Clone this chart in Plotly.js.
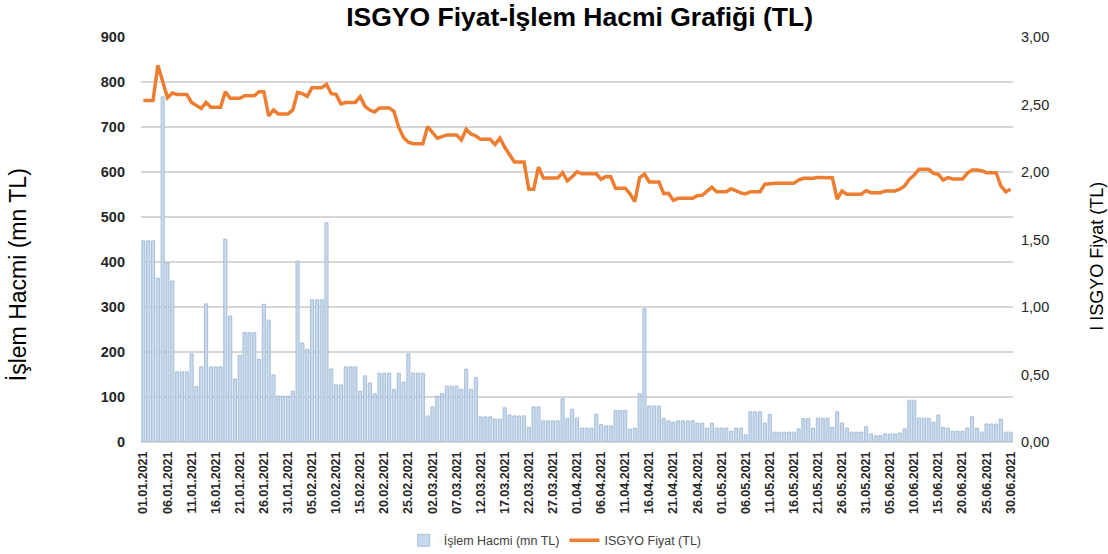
<!DOCTYPE html>
<html>
<head>
<meta charset="utf-8">
<script src="https://cdn.plot.ly/plotly-3.0.1.min.js"></script>
<style>
  html, body { margin: 0; padding: 0; background: #ffffff; }
  #chart { width: 1108px; height: 554px; }
</style>
</head>
<body>
<div id="chart"></div>
<script>
// ---- Data ----
const monthNums = ['01', '02', '03', '04', '05', '06'];

// İşlem Hacmi (mn TL), daily
const volJan = [447, 447, 447, 364, 767, 398, 358, 156, 156, 156, 196, 123, 167, 307, 167, 167, 167, 451, 280, 140, 193, 243, 243, 243, 184, 306, 271, 149, 102, 102, 102];
const volFeb = [113, 402, 220, 206, 316, 316, 316, 487, 162, 127, 127, 167, 167, 167, 113, 147, 131, 107, 153, 153, 153, 117, 153, 133, 196, 153, 153, 153];
const volMar = [58, 78, 102, 108, 124, 124, 124, 117, 162, 117, 143, 56, 56, 56, 51, 51, 76, 60, 58, 58, 58, 33, 78, 78, 47, 47, 47, 47, 96, 53, 73];
const volApr = [53, 31, 31, 31, 62, 39, 36, 36, 70, 70, 70, 29, 31, 107, 296, 80, 80, 80, 52, 47, 44, 47, 47, 47, 47, 42, 42, 31, 42, 31];
const volMay = [31, 31, 24, 31, 31, 16, 67, 67, 67, 42, 61, 22, 22, 22, 22, 22, 29, 52, 52, 31, 53, 53, 53, 33, 67, 42, 31, 22, 22, 22, 34];
const volJun = [18, 14, 14, 18, 18, 18, 20, 29, 93, 93, 53, 53, 53, 44, 60, 33, 31, 24, 24, 24, 31, 56, 31, 22, 40, 40, 40, 51, 22, 22];

// ISGYO Fiyat (TL), daily
const priceJan = [2.53, 2.53, 2.53, 2.79, 2.67, 2.55, 2.585, 2.575, 2.575, 2.575, 2.515, 2.49, 2.47, 2.515, 2.48, 2.48, 2.48, 2.595, 2.546, 2.546, 2.546, 2.565, 2.565, 2.565, 2.595, 2.595, 2.415, 2.46, 2.43, 2.43, 2.43];
const priceFeb = [2.46, 2.59, 2.58, 2.56, 2.625, 2.625, 2.625, 2.65, 2.58, 2.575, 2.505, 2.515, 2.515, 2.515, 2.558, 2.487, 2.459, 2.445, 2.475, 2.475, 2.475, 2.45, 2.33, 2.255, 2.22, 2.21, 2.21, 2.21];
const priceMar = [2.336, 2.29, 2.25, 2.262, 2.275, 2.275, 2.275, 2.237, 2.316, 2.282, 2.267, 2.242, 2.242, 2.242, 2.203, 2.252, 2.183, 2.126, 2.075, 2.075, 2.075, 1.872, 1.872, 2.037, 1.955, 1.955, 1.955, 1.955, 1.995, 1.935, 1.965];
const priceApr = [2.002, 1.987, 1.987, 1.987, 1.987, 1.946, 1.967, 1.965, 1.88, 1.88, 1.88, 1.838, 1.78, 1.958, 1.985, 1.926, 1.926, 1.926, 1.84, 1.842, 1.79, 1.805, 1.805, 1.805, 1.805, 1.825, 1.828, 1.858, 1.886, 1.854];
const priceMay = [1.854, 1.854, 1.876, 1.86, 1.845, 1.838, 1.854, 1.854, 1.854, 1.91, 1.916, 1.916, 1.916, 1.916, 1.916, 1.916, 1.94, 1.953, 1.953, 1.953, 1.96, 1.96, 1.96, 1.958, 1.80, 1.86, 1.836, 1.836, 1.836, 1.836, 1.862];
const priceJun = [1.847, 1.847, 1.847, 1.86, 1.86, 1.86, 1.872, 1.896, 1.946, 1.978, 2.02, 2.02, 2.02, 1.99, 1.983, 1.94, 1.958, 1.948, 1.948, 1.948, 1.99, 2.015, 2.015, 2.01, 1.995, 1.995, 1.995, 1.896, 1.854, 1.872];

const volMonths = [volJan, volFeb, volMar, volApr, volMay, volJun];
const priceMonths = [priceJan, priceFeb, priceMar, priceApr, priceMay, priceJun];

// ---- Categories (dd.mm.2021) ----
const dates = [];
volMonths.forEach(function (arr, mi) {
  for (let d = 1; d <= arr.length; d++) {
    dates.push((d < 10 ? '0' + d : '' + d) + '.' + monthNums[mi] + '.2021');
  }
});
const volumes = [].concat.apply([], volMonths);
const prices = [].concat.apply([], priceMonths);
const tickDates = dates.filter(function (_, i) { return i % 5 === 0; });

const FONT = 'Liberation Sans, Arial, sans-serif';

const traces = [
  {
    type: 'bar',
    name: 'İşlem Hacmi (mn TL)',
    x: dates,
    y: volumes,
    marker: { color: '#c6daef', line: { color: '#9db4cd', width: 0.8 } },
    yaxis: 'y',
    hoverinfo: 'x+y'
  },
  {
    type: 'scatter',
    mode: 'lines',
    name: 'ISGYO Fiyat (TL)',
    x: dates,
    y: prices,
    line: { color: '#ED7D31', width: 3.5 },
    yaxis: 'y2',
    hoverinfo: 'x+y'
  }
];

const layout = {
  width: 1108,
  height: 554,
  margin: { l: 141, r: 95, t: 37, b: 112, pad: 0, autoexpand: false },
  paper_bgcolor: '#ffffff',
  plot_bgcolor: '#ffffff',
  separators: ',.',
  bargap: 0.34,
  showlegend: true,
  font: { family: FONT, color: '#262626' },
  title: {
    text: 'ISGYO Fiyat-İşlem Hacmi Grafiği (TL)',
    font: { family: FONT, size: 26.5, weight: 'bold', color: '#000000' },
    x: 0.503, xref: 'paper', xanchor: 'center',
    y: 0.970, yref: 'container', yanchor: 'middle'
  },
  xaxis: {
    type: 'category',
    automargin: false,
    range: [-0.5, dates.length - 0.5],
    tickmode: 'array',
    tickvals: tickDates,
    ticktext: tickDates,
    tickangle: -90,
    tickfont: { family: FONT, size: 12.5, weight: 'bold', color: '#262626' },
    ticks: '',
    ticklabelstandoff: 6,
    showgrid: false,
    showline: false,
    zeroline: false,
    fixedrange: true
  },
  yaxis: {
    automargin: false,
    range: [0, 900],
    tickmode: 'linear',
    tick0: 0,
    dtick: 100,
    tickfont: { family: FONT, size: 14.5, weight: 'bold', color: '#262626' },
    ticks: '',
    ticklabelstandoff: 15,
    showgrid: true,
    gridcolor: '#d6d6d6',
    gridwidth: 1.5,
    zeroline: true,
    zerolinecolor: '#d6d6d6',
    zerolinewidth: 1.5,
    showline: false,
    fixedrange: true
  },
  yaxis2: {
    automargin: false,
    overlaying: 'y',
    side: 'right',
    range: [0, 3],
    tickmode: 'linear',
    tick0: 0,
    dtick: 0.5,
    tickformat: '.2f',
    tickfont: { family: FONT, size: 14.5, color: '#262626' },
    ticks: '',
    ticklabelstandoff: 7,
    showgrid: false,
    zeroline: false,
    showline: false,
    fixedrange: true
  },
  legend: {
    orientation: 'h',
    xref: 'paper',
    x: 0.475, xanchor: 'center',
    yref: 'container',
    y: 0.024, yanchor: 'middle',
    font: { family: FONT, size: 12.5, color: '#404040' },
    itemwidth: 30,
    bgcolor: 'rgba(0,0,0,0)'
  },
  annotations: [
    {
      text: 'İşlem Hacmi (mn TL)',
      xref: 'paper', yref: 'paper',
      x: -0.141, y: 0.412,
      xanchor: 'center', yanchor: 'middle',
      textangle: -90,
      showarrow: false,
      font: { family: FONT, size: 23, color: '#000000' }
    },
    {
      text: 'I ISGYO Fiyat (TL)',
      xref: 'paper', yref: 'paper',
      x: 1.096, y: 0.459,
      xanchor: 'center', yanchor: 'middle',
      textangle: -90,
      showarrow: false,
      font: { family: FONT, size: 18, color: '#000000' }
    }
  ]
};

Plotly.newPlot('chart', traces, layout, { displayModeBar: false, staticPlot: true });
</script>
</body>
</html>
